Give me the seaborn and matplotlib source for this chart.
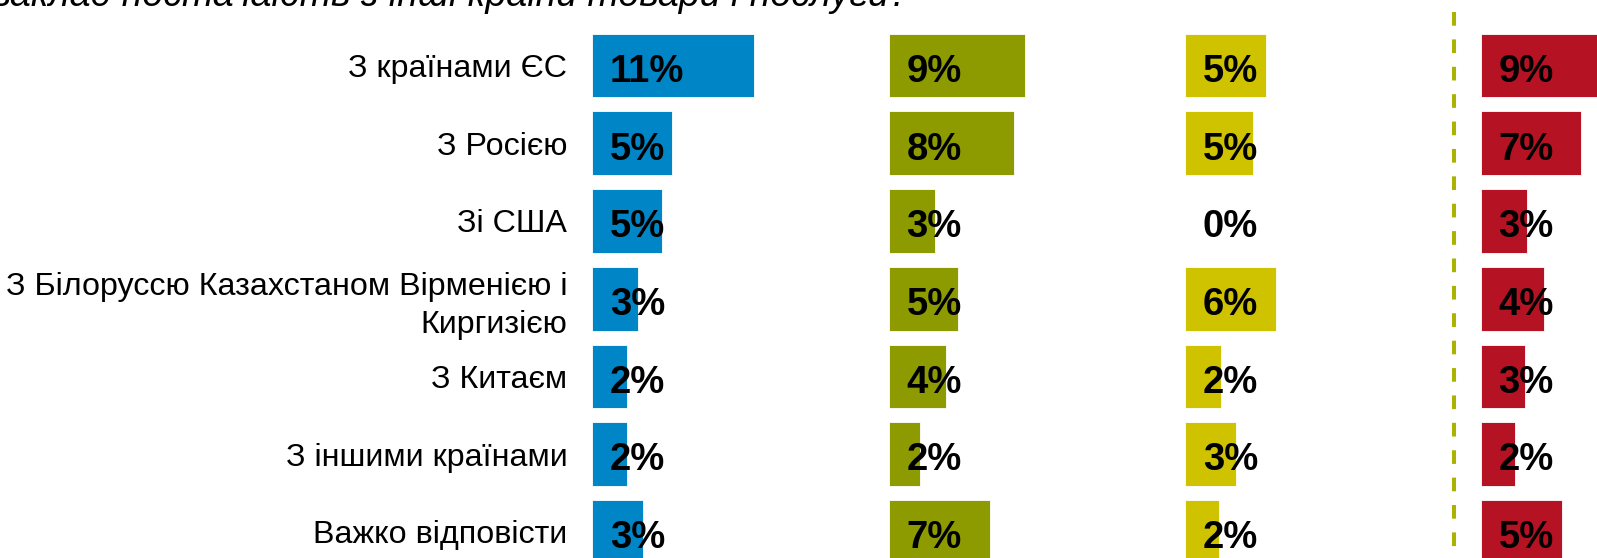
import pandas as pd
import matplotlib.pyplot as plt
import seaborn as sns
from matplotlib.lines import Line2D

sns.set_style("white")
plt.rcParams['font.family'] = ['Liberation Sans', 'DejaVu Sans']
plt.rcParams['text.color'] = 'black'
plt.rcParams['ytick.color'] = 'black'

# Data
categories = [
    "З країнами ЄС",
    "З Росією",
    "Зі США",
    "З Білоруссю Казахстаном Вірменією і\nКиргизією",
    "З Китаєм",
    "З іншими країнами",
    "Важко відповісти",
]
blue_vals = [10.9, 5.36, 4.73, 3.09, 2.36, 2.34, 3.45]
blue_labels = ["11%", "5%", "5%", "3%", "2%", "2%", "3%"]
green_vals = [9.21, 8.47, 3.13, 4.68, 3.85, 2.11, 6.86]
green_labels = ["9%", "8%", "3%", "5%", "4%", "2%", "7%"]
yellow_vals = [5.45, 4.59, 0.0, 6.15, 2.45, 3.47, 2.28]
yellow_labels = ["5%", "5%", "0%", "6%", "2%", "3%", "2%"]
red_vals = [9.2, 6.80, 3.11, 4.26, 3.01, 2.30, 5.47]
red_labels = ["9%", "7%", "3%", "4%", "3%", "2%", "5%"]

title = "заклад постачають з інші країни товари і послуги?"

W, H = 1597, 558
fig = plt.figure(figsize=(W / 100, H / 100), dpi=100)

px_per_unit = 14.8
ax_w = 280
row_pitch = 77.7
ax_top = 26.75
ax_h = 7 * row_pitch

panels = [
    (592.3, blue_vals, blue_labels, "#0086C7"),
    (888.7, green_vals, green_labels, "#8D9B00"),
    (1185.0, yellow_vals, yellow_labels, "#CFC300"),
    (1480.7, red_vals, red_labels, "#B51224"),
]

for i, (left, vals, labels, color) in enumerate(panels):
    ax = fig.add_axes([left / W, 1 - (ax_top + ax_h) / H, ax_w / W, ax_h / H])
    df = pd.DataFrame({"cat": categories, "val": vals})
    sns.barplot(data=df, x="val", y="cat", orient="h", color=color,
                saturation=1, width=0.82, edgecolor="white", linewidth=0.6, ax=ax)
    ax.set_xlim(0, ax_w / px_per_unit)
    ax.set_ylim(6.5, -0.5)
    for s in ax.spines.values():
        s.set_visible(False)
    ax.set_xticks([])
    ax.set_xlabel("")
    ax.set_ylabel("")
    if i == 0:
        ax.tick_params(axis="y", length=0, pad=18, labelsize=23.2)
        for t in ax.get_yticklabels():
            t.set_linespacing(1.35)
    else:
        ax.set_yticks([])
    for j, lab in enumerate(labels):
        ax.annotate(lab, xy=(0, j), xytext=(12.8, -11.7), textcoords="offset points",
                    ha="left", va="baseline", fontsize=27.5, fontweight="bold",
                    color="black", annotation_clip=False)

# dashed separator before the last panel
fig.add_artist(Line2D([1454 / W, 1454 / W], [1 - 12 / H, 0], transform=fig.transFigure,
                      color="#AAB400", linewidth=2.9, dashes=(3.4, 3.4)))

fig.text(-0.004, 1 - 6 / H, title, fontsize=27, style="italic", va="baseline", ha="left")

fig.savefig("out.png", dpi=100)
